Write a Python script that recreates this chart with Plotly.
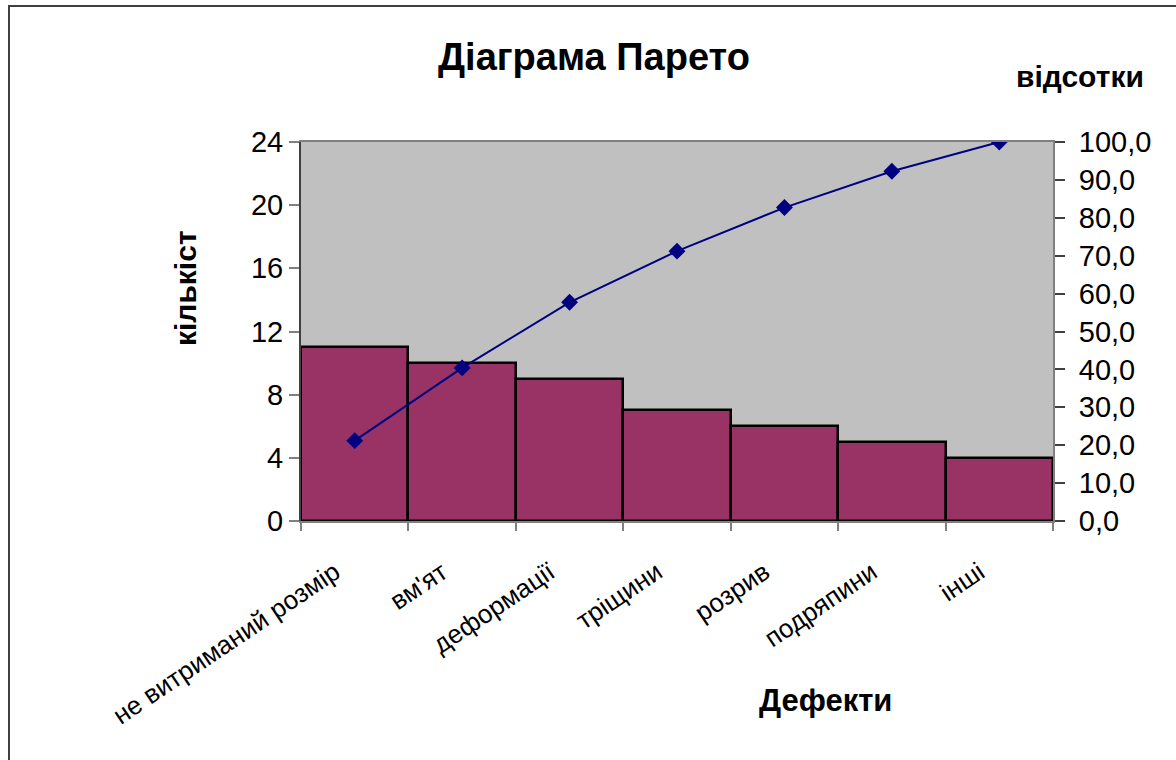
import plotly.graph_objects as go

categories = ["не витриманий розмір", "вм'ят", "деформації", "тріщини", "розрив", "подряпини", "інші"]
counts = [11, 10, 9, 7, 6, 5, 4]
cumulative_pct = [21.2, 40.4, 57.7, 71.2, 82.7, 92.3, 100.0]
left_ticks = [0, 4, 8, 12, 16, 20, 24]
right_ticks = [0, 10, 20, 30, 40, 50, 60, 70, 80, 90, 100]

FONT = "Liberation Sans, Arial, sans-serif"

fig = go.Figure()
fig.add_trace(go.Bar(
    x=categories, y=counts,
    marker=dict(color="#993366", line=dict(color="black", width=2.5)),
    width=1.0, showlegend=False,
))
fig.add_trace(go.Scatter(
    x=categories, y=cumulative_pct, yaxis="y2", mode="lines+markers",
    line=dict(color="#000080", width=2),
    marker=dict(symbol="diamond", size=13, color="#000080"),
    showlegend=False,
))

W, H = 1176, 760
L, R, T, B = 301, 1053, 142, 521

def px_x(px):
    return (px - L) / (R - L)

def px_y(py):
    return (B - py) / (B - T)

fig.update_layout(
    width=W, height=H,
    margin=dict(l=L, r=W - R, t=T, b=H - B, pad=0),
    paper_bgcolor="white", plot_bgcolor="#C0C0C0",
    bargap=0,
    separators=", ",
    font=dict(family=FONT, color="black"),
    xaxis=dict(
        type="category", tickson="boundaries", ticks="outside", ticklen=8,
        tickcolor="#808080", tickwidth=2,
        showline=True, linecolor="#808080", linewidth=2, mirror=True,
        showgrid=False, tickangle=-34,
        ticklabelshift=-20, ticklabelstandoff=24,
        tickfont=dict(size=26, family=FONT, color="black"),
    ),
    yaxis=dict(
        range=[0, 24], tickvals=left_ticks, ticks="outside", ticklen=10,
        tickcolor="#808080", tickwidth=2,
        showline=True, linecolor="#404040", linewidth=2,
        showgrid=False, zeroline=False,
        tickfont=dict(size=29, family=FONT, color="black"),
    ),
    yaxis2=dict(
        range=[0, 100], tickvals=right_ticks, tickformat=".1f",
        overlaying="y", side="right", ticks="outside", ticklen=10,
        tickcolor="#404040", tickwidth=2,
        showline=True, linecolor="#808080", linewidth=2,
        showgrid=False, zeroline=False, ticklabelstandoff=8,
        tickfont=dict(size=29, family=FONT, color="black"),
    ),
    annotations=[
        dict(text="<b>Діаграма Парето</b>", x=px_x(594), y=px_y(57), xref="paper", yref="paper",
             showarrow=False, font=dict(size=38, family=FONT), xanchor="center", yanchor="middle"),
        dict(text="<b>відсотки</b>", x=px_x(1080), y=px_y(77), xref="paper", yref="paper",
             showarrow=False, font=dict(size=30, family=FONT), xanchor="center", yanchor="middle"),
        dict(text="<b>кількіст</b>", x=px_x(185), y=px_y(288), xref="paper", yref="paper",
             showarrow=False, font=dict(size=30, family=FONT), textangle=-90,
             xanchor="center", yanchor="middle"),
        dict(text="<b>Дефекти</b>", x=px_x(825), y=px_y(700), xref="paper", yref="paper",
             showarrow=False, font=dict(size=31, family=FONT), xanchor="center", yanchor="middle"),
    ],
)
fig.add_shape(type="rect", xref="paper", yref="paper",
              x0=px_x(9), x1=px_x(1200), y0=px_y(800), y1=px_y(6),
              line=dict(color="#404040", width=2), fillcolor="rgba(0,0,0,0)", layer="below")

fig.write_html("out.html")
